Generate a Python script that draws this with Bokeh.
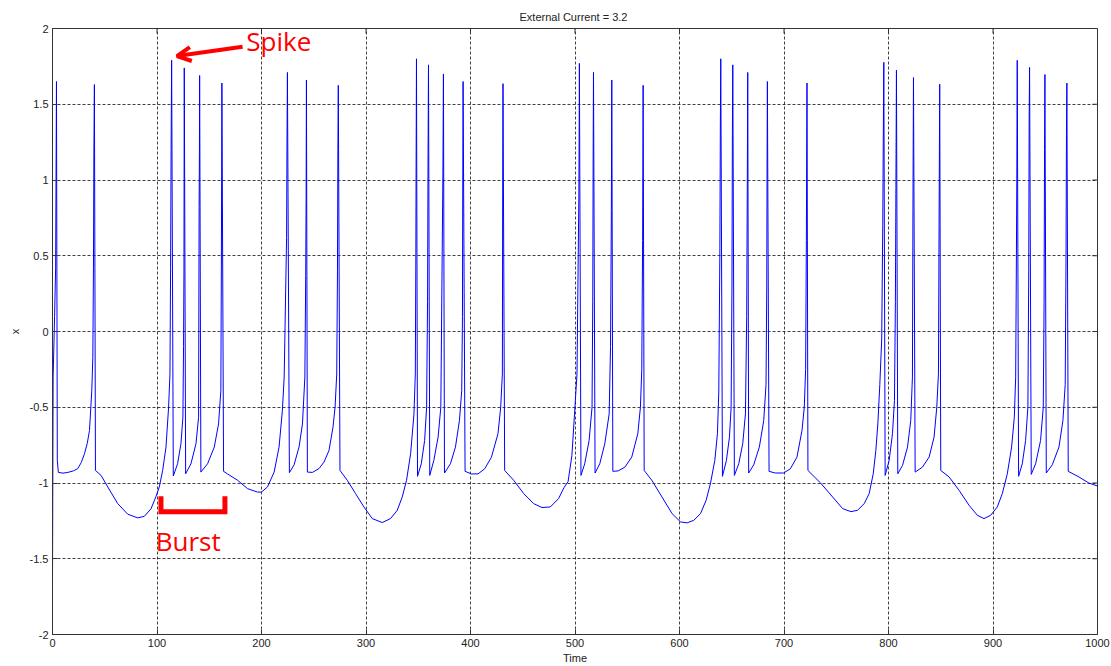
from bokeh.plotting import figure
from bokeh.models import Range1d, Label, Arrow, OpenHead, FixedTicker
from bokeh.embed import file_html
from bokeh.resources import INLINE

# ---- data (Time, x) ----
seg_a_t = [0, 0.6, 2.0, 3.0, 3.8, 4.6, 5.6, 10, 14.7, 20, 24.2, 27.5, 30.6, 33.2, 35.4, 37.6, 38.6, 39.2, 39.6, 40.1, 41.1]
seg_a_x = [-1.65, -0.3, 0.1, 0.42, 1.65, -0.85, -0.93, -0.935, -0.93, -0.92, -0.905, -0.865, -0.807, -0.74, -0.654, -0.39, -0.17, 0.42, 1.17, 1.63, -0.917]

seg_b_t = [46.5, 52.9, 62.4, 72.0, 81.5, 87.9, 94.3, 99.0, 102.2, 105.4, 108.6, 111.1, 112.4, 113.0, 113.5, 114.0, 115.6, 119.7, 122.9, 124.8,
           125.4, 125.8, 126.1, 127.4, 132.5, 137.3, 139.8, 140.3, 140.6, 140.8, 142.0, 148.4, 154.8, 158.9, 161.1, 161.6, 162.1, 163.7]
seg_b_x = [-0.95, -1.026, -1.136, -1.206, -1.23, -1.22, -1.17, -1.09, -1.026, -0.917, -0.763, -0.5, -0.28, 0.42, 1.2, 1.79, -0.954, -0.873, -0.741, -0.566,
           -0.1, 0.4, 1.74, -0.939, -0.873, -0.741, -0.566, 0.82, 1.18, 1.69, -0.928, -0.873, -0.763, -0.61, -0.39, 0.42, 1.64, -0.923]

seg_c_t = [167.5, 177.1, 186.6, 196.2, 200.0, 205.7, 212.1, 216.8, 220.0, 221.7, 224.0, 224.4, 224.8, 226.7, 231.2, 236.0, 239.2, 241.5, 242.3, 242.7, 243.0, 243.9]
seg_c_x = [-0.94, -0.982, -1.037, -1.06, -1.06, -1.026, -0.928, -0.763, -0.52, -0.3, 0.62, 1.25, 1.71, -0.932, -0.88, -0.76, -0.61, -0.3, 0.37, 0.87, 1.66, -0.928]

seg_d_t = [248.7, 255.0, 259.8, 264.6, 268.4, 270.4, 272.0, 272.7, 273.1, 273.5, 275.1]
seg_d_x = [-0.93, -0.905, -0.862, -0.785, -0.632, -0.5, -0.28, 0.4, 1.2, 1.625, -0.917]

seg_e_t = [282.1, 290.0, 298.0, 306.0, 315.5, 323.5, 329.9, 334.7, 338.8, 342.7, 345.9, 347.2, 347.7, 348.0, 348.3, 349.3, 352.9, 356.1, 358.0, 358.9,
           359.4, 359.8, 361.0, 364.9, 369.0, 371.6, 372.9, 373.6, 374.1, 375.1, 380.8, 385.6, 389.4, 391.6, 392.3, 392.6, 392.9, 394.8]
seg_e_x = [-0.982, -1.07, -1.158, -1.235, -1.261, -1.235, -1.18, -1.092, -0.982, -0.807, -0.544, -0.28, 0.5, 1.2, 1.80, -0.956, -0.873, -0.72, -0.5, 0.2,
           1.18, 1.76, -0.95, -0.851, -0.697, -0.5, 0.5, 1.05, 1.70, -0.934, -0.873, -0.763, -0.588, -0.39, 0.1, 1.0, 1.65, -0.923]

seg_f_t = [400.9, 407.2, 413.6, 420.0, 426.3, 428.9, 430.5, 430.8, 431.1, 432.7]
seg_f_x = [-0.94, -0.94, -0.906, -0.83, -0.675, -0.5, -0.28, 0.9, 1.636, -0.917]

seg_g_t = [441.3, 450.9, 460.4, 468.4, 476.4, 484.3, 489.5, 493.4, 497.0, 499.5, 501.9, 503.7, 504.0, 504.2, 505.7, 509.3, 513.5, 516.3, 517.0, 517.4,
           517.7, 519.2, 523.7, 528.5, 532.7, 534.0, 534.8, 535.2, 536.2, 541.4, 547.8, 554.3, 560.1, 562.6, 563.9, 564.7, 565.2, 566.2]
seg_g_x = [-0.982, -1.07, -1.136, -1.162, -1.158, -1.103, -1.03, -0.99, -0.82, -0.55, -0.28, 0.9, 1.35, 1.77, -0.95, -0.873, -0.72, -0.5, 0.2, 1.2,
           1.71, -0.934, -0.873, -0.741, -0.544, -0.1, 0.8, 1.66, -0.923, -0.92, -0.895, -0.829, -0.675, -0.5, -0.25, 0.6, 1.625, -0.917]

seg_h_t = [573.5, 583.2, 592.9, 601.0, 607.3, 613.7, 620.1, 625.5, 629.6, 633.8, 636.3, 637.6, 638.6, 639.1, 639.5, 641.1, 644.9, 647.8, 649.4, 650.2,
           650.6, 651.0, 652.5, 656.7, 660.5, 663.1, 664.3, 664.9, 665.3, 666.2, 671.0, 676.4, 680.6, 682.8, 683.5, 683.8, 684.1, 685.7, 691.7, 699.7,
           706.1, 712.4, 717.2, 719.4, 720.7, 721.4, 722.0, 722.9]
seg_h_x = [-0.982, -1.092, -1.202, -1.257, -1.263, -1.246, -1.202, -1.114, -1.004, -0.851, -0.675, -0.4, 0.5, 1.37, 1.80, -0.956, -0.851, -0.697, -0.5, 0.3,
           1.3, 1.76, -0.95, -0.873, -0.741, -0.544, 0.1, 1.0, 1.71, -0.934, -0.88, -0.763, -0.588, -0.35, 0.3, 1.1, 1.65, -0.923, -0.934, -0.934,
           -0.906, -0.829, -0.654, -0.5, -0.25, 0.6, 1.64, -0.917]

seg_i_t = [735.0, 746.5, 756.1, 764.0, 770.4, 776.8, 781.5, 785.4, 787.9, 789.8, 791.7, 793.5, 794.5, 795.0, 795.5, 796.8, 800.6, 803.8, 805.7, 806.6,
           807.1, 807.6, 808.9, 813.4, 818.2, 821.3, 822.9, 823.4, 823.9, 825.5, 832.5, 838.9, 843.6, 846.2, 847.8, 848.4, 849.0, 850.0]
seg_i_x = [-1.0, -1.092, -1.169, -1.189, -1.18, -1.136, -1.07, -0.939, -0.785, -0.61, -0.35, -0.05, 0.7, 1.25, 1.777, -0.95, -0.851, -0.675, -0.456, 0.2,
           0.95, 1.725, -0.939, -0.884, -0.763, -0.588, -0.3, 0.8, 1.676, -0.928, -0.895, -0.829, -0.697, -0.5, -0.28, 0.7, 1.632, -0.917]

seg_j_t = [858.0, 867.5, 877.1, 885.0, 891.4, 897.8, 904.1, 908.9, 913.7, 917.8, 920.4, 921.7, 922.4, 922.8, 923.2, 924.5, 928.0, 931.2, 933.4, 934.2,
           934.6, 935.0, 936.6, 940.8, 945.5, 948.1, 948.9, 949.3, 949.7, 951.0, 956.7, 963.1, 966.9, 969.1, 969.9, 970.3, 970.7, 972.0, 982.2, 991.7,
           1000.0]
seg_j_x = [-0.96, -1.048, -1.147, -1.213, -1.235, -1.213, -1.158, -1.07, -0.939, -0.763, -0.566, -0.3, 0.5, 1.0, 1.79, -0.956, -0.873, -0.72, -0.5, 0.4,
           1.4, 1.743, -0.943, -0.873, -0.72, -0.5, 0.2, 1.2, 1.696, -0.934, -0.88, -0.763, -0.588, -0.35, 0.5, 1.3, 1.64, -0.923, -0.96, -1.0,
           -1.02]

x_ticks = [0, 100, 200, 300, 400, 500, 600, 700, 800, 900, 1000]
y_ticks = [-2, -1.5, -1, -0.5, 0, 0.5, 1, 1.5, 2]
y_tick_labels = ["-2", "-1.5", "-1", "-0.5", "0", "0.5", "1", "1.5", "2"]

# annotation geometry (data units)
burst_bracket_t = [103.8, 103.8, 165.0, 165.0]
burst_bracket_x = [-1.087, -1.19, -1.19, -1.087]

time = (seg_a_t + seg_b_t + seg_c_t + seg_d_t + seg_e_t + seg_f_t + seg_g_t + seg_h_t + seg_i_t + seg_j_t)
xval = (seg_a_x + seg_b_x + seg_c_x + seg_d_x + seg_e_x + seg_f_x + seg_g_x + seg_h_x + seg_i_x + seg_j_x)

FONT = "Liberation Sans"
AX = "#333333"
TXT = "#222222"

p = figure(width=1111, height=666, output_backend="svg", toolbar_location=None,
           x_range=Range1d(0, 1000), y_range=Range1d(-2, 2),
           title="External Current =  3.2")
p.min_border_left = 52
p.min_border_right = 14
p.min_border_top = 28
p.min_border_bottom = 32
p.background_fill_color = "white"
p.border_fill_color = "white"
p.outline_line_color = AX
p.outline_line_width = 1

p.title.align = "center"
p.title.text_font = FONT
p.title.text_font_size = "11px"
p.title.text_font_style = "normal"
p.title.text_color = TXT
p.title.standoff = 12

p.xgrid.grid_line_color = "black"
p.ygrid.grid_line_color = "black"
p.xgrid.grid_line_dash = "3 2"
p.ygrid.grid_line_dash = "3 2"
p.xgrid.grid_line_alpha = 0.75
p.ygrid.grid_line_alpha = 0.75

p.line(time, xval, line_color="#0000ff", line_width=1)

p.xaxis.ticker = FixedTicker(ticks=x_ticks)
p.xaxis.axis_label = "Time"
p.yaxis.ticker = FixedTicker(ticks=y_ticks)
p.yaxis.major_label_overrides = {t: s for t, s in zip(y_ticks, y_tick_labels)}
p.yaxis.axis_label = "x"

for ax in [p.xaxis[0], p.yaxis[0]]:
    ax.major_tick_in = 5
    ax.major_tick_out = 0
    ax.minor_tick_line_color = None
    ax.axis_line_color = AX
    ax.major_tick_line_color = AX
    ax.major_label_text_font = FONT
    ax.major_label_text_color = TXT
    ax.major_label_text_font_size = "11px"
    ax.major_label_standoff = 4
    ax.axis_label_text_font = FONT
    ax.axis_label_text_font_style = "normal"
    ax.axis_label_text_color = TXT
    ax.axis_label_text_font_size = "11px"
    ax.axis_label_standoff = 2
p.yaxis.axis_label_standoff = 6

# mirrored inward ticks on the top and right edges of the box (MATLAB style)
n_x = len(x_ticks)
n_y = len(y_ticks)
p.segment(x0=x_ticks, y0=[2.0] * n_x, x1=x_ticks, y1=[2.0 - 0.033] * n_x, line_color=AX, line_width=1)
p.segment(x0=[1000.0] * n_y, y0=y_ticks, x1=[1000.0 - 4.8] * n_y, y1=y_ticks, line_color=AX, line_width=1)

# annotations
p.line(burst_bracket_t, burst_bracket_x, line_color="red", line_width=5, line_join="miter")
p.add_layout(Label(x=98.7, y=-1.385, text="Burst", text_color="red", text_font="Open Sans",
                   text_font_size="26px", text_baseline="alphabetic"))
p.add_layout(Label(x=185.4, y=1.917, text="Spike", text_color="red", text_font="Open Sans",
                   text_font_size="26px", text_baseline="alphabetic"))
p.add_layout(Arrow(end=OpenHead(size=14, line_color="red", line_width=4),
                   x_start=181.9, y_start=1.88, x_end=119.1, y_end=1.818,
                   line_color="red", line_width=4))

open("out.html", "w").write(file_html(p, INLINE))
